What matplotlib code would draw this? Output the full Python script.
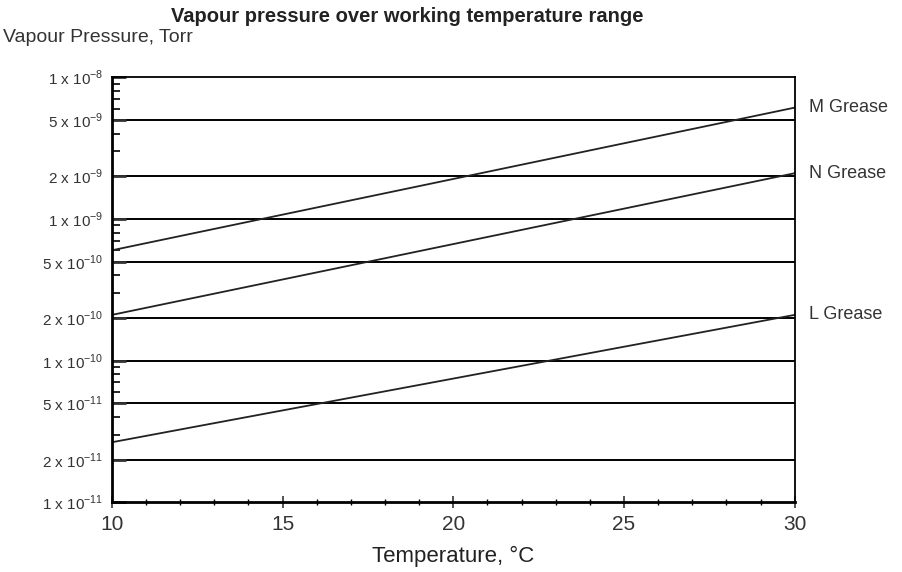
import matplotlib.pyplot as plt
import matplotlib.ticker as mticker
import numpy as np

plt.rcParams['font.family'] = ['Liberation Sans', 'DejaVu Sans']
plt.rcParams['mathtext.fontset'] = 'custom'
plt.rcParams['mathtext.rm'] = 'Liberation Sans'

# data
temps = [10, 30]
m_grease = [6.0e-10, 6.1e-9]
n_grease = [2.1e-10, 2.1e-9]
l_grease = [2.65e-11, 2.1e-10]
names = ['M Grease', 'N Grease', 'L Grease']

grid_vals = [2e-11, 5e-11, 1e-10, 2e-10, 5e-10, 1e-9, 2e-9, 5e-9]
ytick_vals = [1e-11, 2e-11, 5e-11, 1e-10, 2e-10, 5e-10, 1e-9, 2e-9, 5e-9, 1e-8]
xticks = [10, 15, 20, 25, 30]

fig = plt.figure(figsize=(9.02, 5.72), dpi=100)
ax = fig.add_axes([0.124, 0.122, 0.757, 0.743])
ax.set_yscale('log')
ax.set_xlim(10, 30)
ax.set_ylim(1e-11, 1e-8)

for g in grid_vals:
    ax.axhline(g, color='black', lw=1.4, zorder=1)

for vals, name in zip([m_grease, n_grease, l_grease], names):
    ax.plot(temps, vals, color='#222222', lw=1.3, zorder=2)
    ax.annotate(name, xy=(temps[-1], vals[-1]), xycoords='data',
                xytext=(10, 0), textcoords='offset points',
                ha='left', va='center', fontsize=13, color='#333333',
                annotation_clip=False)

def fmt(v, pos=None):
    e = int(np.floor(np.log10(v) + 1e-9))
    m = round(v / 10**e)
    return '%d x 10$^{%d}$' % (m, e)

ax.yaxis.set_major_locator(mticker.FixedLocator(ytick_vals))
ax.yaxis.set_major_formatter(mticker.FuncFormatter(fmt))
ax.yaxis.set_minor_locator(mticker.LogLocator(base=10, subs=np.arange(2, 10)))
ax.yaxis.set_minor_formatter(mticker.NullFormatter())
ax.tick_params(axis='y', which='major', direction='in', length=10, width=2,
               labelsize=11, colors='#333333', pad=6)
ax.tick_params(axis='y', which='minor', direction='in', length=6, width=1.2)

ax.set_xticks(xticks)
ax.xaxis.set_minor_locator(mticker.MultipleLocator(1))
ax.tick_params(axis='x', which='major', direction='inout', length=8, width=1.2,
               labelsize=15, colors='#333333', pad=5)
ax.tick_params(axis='x', which='minor', direction='inout', length=5, width=1)

for s in ax.spines.values():
    s.set_linewidth(1.3)
ax.spines['left'].set_linewidth(2)
ax.spines['bottom'].set_linewidth(2)

ax.set_xlabel('Temperature, \u00b0C', fontsize=16, color='#222222', labelpad=9)
fig.text(0.452, 0.972, 'Vapour pressure over working temperature range',
         ha='center', va='center', fontsize=14.5, fontweight='bold',
         color='#222222')
fig.text(0.003, 0.935, 'Vapour Pressure, Torr', ha='left', va='center',
         fontsize=14, color='#333333')

fig.savefig('out.png', dpi=100)
